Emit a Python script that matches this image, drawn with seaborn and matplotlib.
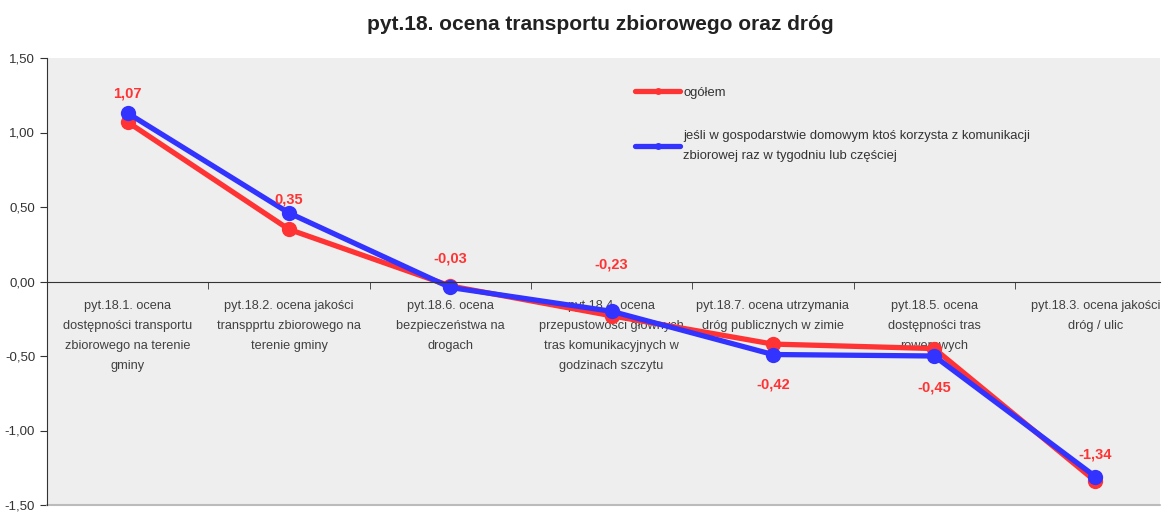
import numpy as np
import pandas as pd
import seaborn as sns
import matplotlib.pyplot as plt
from matplotlib.ticker import FuncFormatter, FixedLocator

categories = [
    "pyt.18.1. ocena\ndostępności transportu\nzbiorowego na terenie\ngminy",
    "pyt.18.2. ocena jakości\ntranspprtu zbiorowego na\nterenie gminy",
    "pyt.18.6. ocena\nbezpieczeństwa na\ndrogach",
    "pyt.18.4. ocena\nprzepustowości głównych\ntras komunikacyjnych w\ngodzinach szczytu",
    "pyt.18.7. ocena utrzymania\ndróg publicznych w zimie",
    "pyt.18.5. ocena\ndostępności tras\nrowerowych",
    "pyt.18.3. ocena jakości\ndróg / ulic",
]
ogolem = [1.07, 0.35, -0.03, -0.23, -0.42, -0.45, -1.34]
korzysta = [1.13, 0.46, -0.04, -0.20, -0.49, -0.50, -1.31]
series_names = [
    "ogółem",
    "jeśli w gospodarstwie domowym ktoś korzysta z komunikacji\nzbiorowej raz w tygodniu lub częściej",
]
y_ticks = [-1.5, -1.0, -0.5, 0.0, 0.5, 1.0, 1.5]

# label offsets (pixels) for red value labels
label_dy = [29, 30, 27, 51, -40, -39, 27]

RED = "#FF3333"
BLUE = "#3333FF"

sns.set_style("white")
plt.rcParams['font.family'] = ['Liberation Sans', 'DejaVu Sans']

fig = plt.figure(figsize=(11.63, 5.13), dpi=100)
ax = fig.add_axes([47 / 1163, 8 / 513, 1113 / 1163, 447 / 513])
ax.set_facecolor("#EEEEEE")

x = np.arange(len(categories))
df = pd.DataFrame({
    "x": np.concatenate([x, x]),
    "y": ogolem + korzysta,
    "s": [series_names[0]] * len(x) + [series_names[1]] * len(x),
})
sns.lineplot(data=df, x="x", y="y", hue="s", palette=[RED, BLUE],
             marker="o", markersize=11, markeredgewidth=0, linewidth=3.8,
             ax=ax, sort=False)

for xi, v, dy in zip(x, ogolem, label_dy):
    ax.annotate(f"{v:.2f}".replace(".", ","), (xi, v), xytext=(0, dy),
                textcoords="offset pixels", ha="center", va="center",
                color=RED, fontsize=10.5, fontweight="bold")

ax.set_ylim(-1.5, 1.5)
ax.set_xlim(-0.5, 6.4)
ax.set_yticks(y_ticks)
ax.yaxis.set_major_formatter(FuncFormatter(lambda v, p: f"{v:.2f}".replace(".", ",")))
ax.tick_params(axis="y", direction="out", length=5, color="#333333",
               labelsize=9.5, labelcolor="#333333", left=True)

ax.spines["bottom"].set_position(("data", 0))
ax.spines["bottom"].set_color("#333333")
ax.spines["left"].set_color("#333333")
ax.spines["top"].set_visible(False)
ax.spines["right"].set_visible(False)
ax.axhline(-1.5, color="#BBBBBB", lw=1.5, clip_on=False)

ax.set_xticks(x)
ax.set_xticklabels(categories, fontsize=9.2, color="#404040", linespacing=1.9)
ax.xaxis.set_minor_locator(FixedLocator(np.arange(0.5, 6.5, 1)))
ax.tick_params(axis="x", which="major", length=0, pad=13)
ax.tick_params(axis="x", which="minor", direction="out", length=5,
               color="#333333", bottom=True)
ax.set_xlabel("")
ax.set_ylabel("")

handles, labels = ax.get_legend_handles_labels()
for h in handles:
    h.set_markersize(5)
leg = ax.legend(handles, labels, loc="upper left",
                bbox_to_anchor=(623 / 1163, 1 - 75 / 513),
                bbox_transform=fig.transFigure, frameon=False, fontsize=9.4,
                handlelength=3.5, handletextpad=0.2, labelspacing=2.4)
for t in leg.get_texts():
    t.set_linespacing(1.9)
    t.set_color("#333333")

fig.suptitle("pyt.18. ocena transportu zbiorowego oraz dróg", x=600 / 1163,
             y=1 - 25 / 513, va="center", fontsize=15, fontweight="bold",
             color="#222222")

fig.savefig("out.png", dpi=100)
